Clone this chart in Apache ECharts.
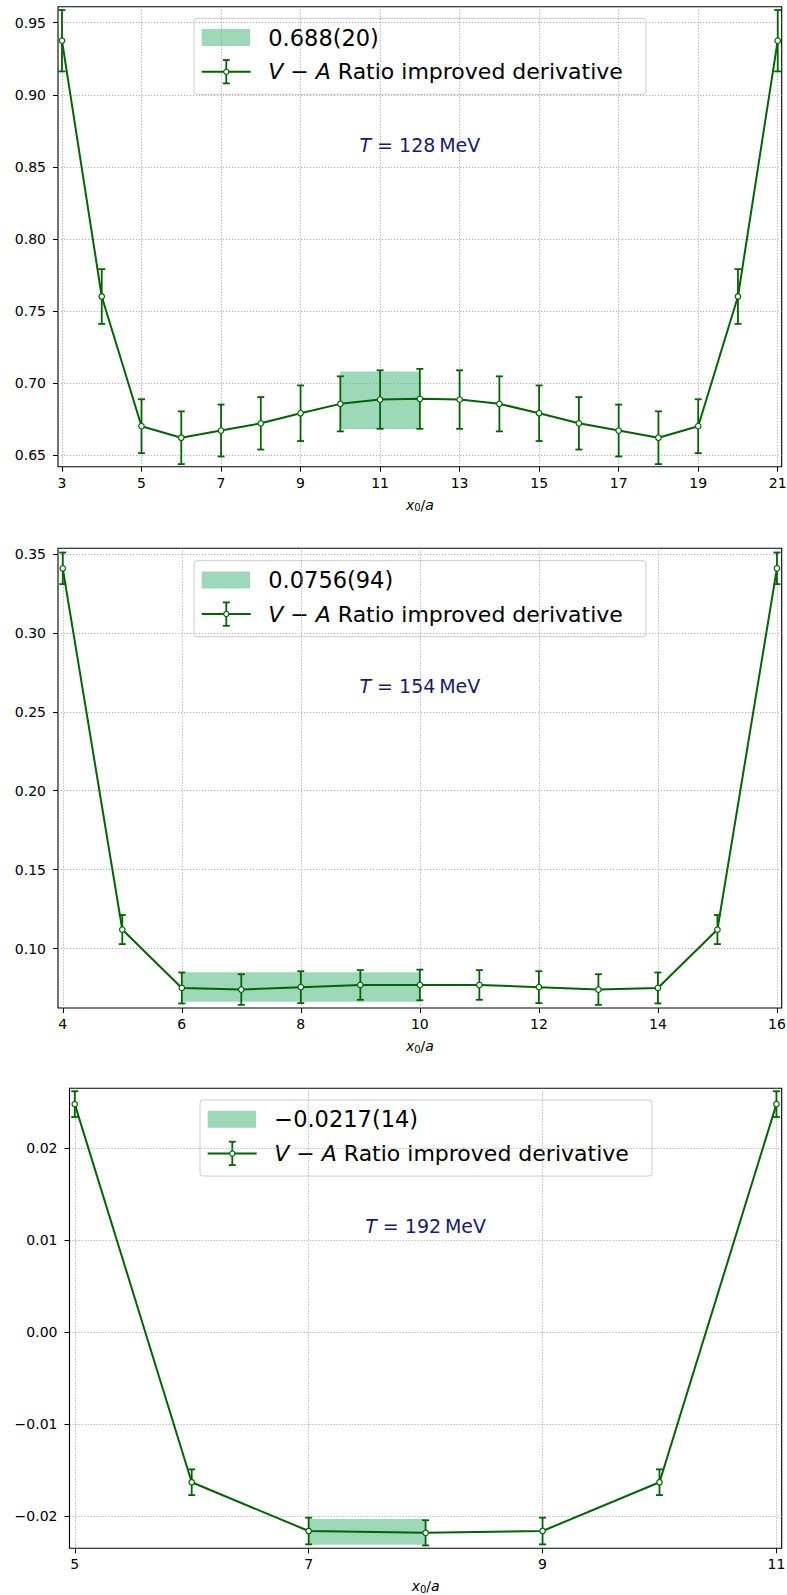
<!DOCTYPE html>
<html>
<head>
<meta charset="utf-8">
<script src="https://cdn.jsdelivr.net/npm/echarts@6/dist/echarts.min.js"></script>
<style>
html,body{margin:0;padding:0;background:#fff;}
#chart{width:787px;height:1595px;}
</style>
</head>
<body>
<div id="chart"></div>
<script>
// ---------------- DATA ----------------
// Panel 1 : T = 128 MeV
const x1 = [3,4,5,6,7,8,9,10,11,12,13,14,15,16,17,18,19,20,21];
const y1 = [0.9375,0.760,0.670,0.662,0.667,0.672,0.679,0.6855,0.6885,0.689,0.6885,0.6855,0.679,0.672,0.667,0.662,0.670,0.760,0.9375];
const e1 = [0.0213,0.019,0.0187,0.0183,0.018,0.0182,0.0193,0.0191,0.0203,0.0208,0.0203,0.0191,0.0193,0.0182,0.018,0.0183,0.0187,0.019,0.0213];
const band1X = [10, 12];
const band1V = 0.688, band1E = 0.020;
const band1Label = '0.688(20)';
const temp1 = '128';
const xTicks1 = [3,5,7,9,11,13,15,17,19,21];
const yTicks1 = [0.65,0.70,0.75,0.80,0.85,0.90,0.95];
const xRange1 = [2.9, 21.1];
const yRange1 = [0.6419, 0.9611];

// Panel 2 : T = 154 MeV
const x2 = [4,5,6,7,8,9,10,11,12,13,14,15,16];
const y2 = [0.3409,0.1120,0.0750,0.0740,0.0755,0.0769,0.0769,0.0769,0.0755,0.0740,0.0750,0.1120,0.3409];
const e2 = [0.0100,0.0092,0.0098,0.0097,0.0101,0.0094,0.0097,0.0094,0.0101,0.0097,0.0098,0.0092,0.0100];
const band2X = [6, 10];
const band2V = 0.0756, band2E = 0.0094;
const band2Label = '0.0756(94)';
const temp2 = '154';
const xTicks2 = [4,6,8,10,12,14,16];
const yTicks2 = [0.10,0.15,0.20,0.25,0.30,0.35];
const xRange2 = [3.92, 16.08];
const yRange2 = [0.0623, 0.3536];

// Panel 3 : T = 192 MeV
const x3 = [5,6,7,8,9,10,11];
const y3 = [0.0248,-0.0163,-0.0216,-0.0218,-0.0216,-0.0163,0.0248];
const e3 = [0.0014,0.0014,0.00145,0.00137,0.00145,0.0014,0.0014];
const band3X = [7, 8];
const band3V = -0.0217, band3E = 0.0014;
const band3Label = '\u22120.0217(14)';
const temp3 = '192';
const xTicks3 = [5,7,9,11];
const yTicks3 = [-0.02,-0.01,0.00,0.01,0.02];
const xRange3 = [4.955, 11.045];
const yRange3 = [-0.02348, 0.02652];

const seriesLabel = '{i|V}{m|\u2212}{i|A} Ratio improved derivative';
const xAxisTitle = '{i|x}{sub|0}{n|/}{i|a}';

// ---------------- LAYOUT / STYLE ----------------
const FONT = '"DejaVu Sans", sans-serif';
const GREEN = '#006400';
const BAND = 'rgba(60,179,113,0.5)';
const layout = [
  {left: 58, right: 5.3, top: 6.7, height: 460, legendLeft: 194, legendTop: 18.3},
  {left: 58, right: 5.3, top: 548.3, height: 459.7, legendLeft: 194, legendTop: 560.7},
  {left: 69.5, right: 5.3, top: 1088.3, height: 460, legendLeft: 200, legendTop: 1100}
];
const panels = [
  {x:x1,y:y1,e:e1,bx:band1X,bv:band1V,be:band1E,bl:band1Label,t:temp1,xt:xTicks1,yt:yTicks1,xr:xRange1,yr:yRange1},
  {x:x2,y:y2,e:e2,bx:band2X,bv:band2V,be:band2E,bl:band2Label,t:temp2,xt:xTicks2,yt:yTicks2,xr:xRange2,yr:yRange2},
  {x:x3,y:y3,e:e3,bx:band3X,bv:band3V,be:band3E,bl:band3Label,t:temp3,xt:xTicks3,yt:yTicks3,xr:xRange3,yr:yRange3}
];

const W = 787;
const grids = [], xAxes = [], yAxes = [], series = [], graphics = [];
const gridStyle = {color: '#9a9a9a', width: 0.8, type: [1.2, 1.8]};

panels.forEach((p, k) => {
  const L = layout[k];
  grids.push({left: L.left, right: L.right, top: L.top, height: L.height,
    show: true, borderColor: '#000', borderWidth: 1.1, backgroundColor: 'transparent',
    containLabel: false, outerBoundsMode: 'none'});
  xAxes.push({
    type: 'value', gridIndex: k, min: p.xr[0], max: p.xr[1],
    axisLine: {show: false, onZero: false},
    axisTick: {show: true, inside: false, length: 5, customValues: p.xt, lineStyle: {color: '#000', width: 1}},
    axisLabel: {customValues: p.xt, color: '#000', fontSize: 14, fontFamily: FONT, margin: 9,
      formatter: v => String(v)},
    splitLine: {show: true, lineStyle: gridStyle},
    name: xAxisTitle, nameLocation: 'middle', nameGap: 31,
    nameTextStyle: {color: '#000', fontFamily: FONT, fontSize: 14, lineHeight: 14,
      rich: {
        i: {fontStyle: 'italic', fontSize: 14, fontFamily: FONT, color: '#000', lineHeight: 14},
        n: {fontSize: 14, fontFamily: FONT, color: '#000', lineHeight: 14},
        sub: {fontSize: 10, fontFamily: FONT, color: '#000', lineHeight: 8, padding: [6, 0, 0, 0]}
      }}
  });
  yAxes.push({
    type: 'value', gridIndex: k, min: p.yr[0], max: p.yr[1],
    axisLine: {show: false, onZero: false},
    axisTick: {show: true, inside: false, length: 5, customValues: p.yt, lineStyle: {color: '#000', width: 1}},
    axisLabel: {customValues: p.yt, color: '#000', fontSize: 14, fontFamily: FONT, margin: 12,
      formatter: v => v.toFixed(2).replace('-', '\u2212')},
    splitLine: {show: true, lineStyle: gridStyle}
  });
  // band
  series.push({
    type: 'custom', xAxisIndex: k, yAxisIndex: k, z: 1, silent: true, clip: true,
    data: [[p.bx[0], p.bx[1], p.bv - p.be, p.bv + p.be]],
    encode: {x: [0, 1], y: [2, 3]},
    renderItem: (params, api) => {
      const a = api.coord([api.value(0), api.value(3)]);
      const b = api.coord([api.value(1), api.value(2)]);
      return {type: 'rect', shape: {x: a[0], y: a[1], width: b[0] - a[0], height: b[1] - a[1]},
        style: {fill: BAND}};
    }
  });
  // error bars
  series.push({
    type: 'custom', xAxisIndex: k, yAxisIndex: k, z: 2, silent: true, clip: false,
    data: p.x.map((xx, i) => [xx, p.y[i] - p.e[i], p.y[i] + p.e[i]]),
    encode: {x: 0, y: [1, 2]},
    renderItem: (params, api) => {
      const hi = api.coord([api.value(0), api.value(2)]);
      const lo = api.coord([api.value(0), api.value(1)]);
      const c = 3.5, st = {stroke: GREEN, lineWidth: 1.8};
      return {type: 'group', children: [
        {type: 'line', shape: {x1: hi[0], y1: hi[1], x2: lo[0], y2: lo[1]}, style: st},
        {type: 'line', shape: {x1: hi[0] - c, y1: hi[1], x2: hi[0] + c, y2: hi[1]}, style: st},
        {type: 'line', shape: {x1: lo[0] - c, y1: lo[1], x2: lo[0] + c, y2: lo[1]}, style: st}
      ]};
    }
  });
  // main line
  series.push({
    type: 'line', xAxisIndex: k, yAxisIndex: k, z: 3,
    data: p.x.map((xx, i) => [xx, p.y[i]]),
    symbol: 'circle', symbolSize: 5.5, showSymbol: true, showAllSymbol: true,
    lineStyle: {color: GREEN, width: 2},
    itemStyle: {color: '#fff', borderColor: GREEN, borderWidth: 1.2},
    emphasis: {disabled: true}
  });

  // legend box
  const lx = L.legendLeft, ly = L.legendTop;
  graphics.push({
    type: 'group', x: lx, y: ly, z: 100,
    children: [
      {type: 'rect', shape: {x: 0, y: 0, width: 452, height: 76, r: 3},
        style: {fill: 'rgba(255,255,255,0.8)', stroke: '#cccccc', lineWidth: 1}},
      {type: 'rect', shape: {x: 7.7, y: 10.7, width: 48.3, height: 17}, style: {fill: BAND}},
      {type: 'text', x: 74.3, y: 19.2,
        style: {text: p.bl, fill: '#000', fontSize: 22.5, fontFamily: FONT,
          align: 'left', verticalAlign: 'middle', textAlign: 'left', textVerticalAlign: 'middle'}},
      {type: 'line', shape: {x1: 7.7, y1: 53.4, x2: 56.7, y2: 53.4}, style: {stroke: GREEN, lineWidth: 2}},
      {type: 'line', shape: {x1: 32.3, y1: 41.7, x2: 32.3, y2: 65.1}, style: {stroke: GREEN, lineWidth: 1.8}},
      {type: 'line', shape: {x1: 28.8, y1: 41.7, x2: 35.8, y2: 41.7}, style: {stroke: GREEN, lineWidth: 1.8}},
      {type: 'line', shape: {x1: 28.8, y1: 65.1, x2: 35.8, y2: 65.1}, style: {stroke: GREEN, lineWidth: 1.8}},
      {type: 'circle', shape: {cx: 32.3, cy: 53.4, r: 2.6}, style: {fill: '#fff', stroke: GREEN, lineWidth: 1.2}},
      {type: 'text', x: 74.3, y: 53.4,
        style: {text: seriesLabel, fill: '#000', fontSize: 22, fontFamily: FONT,
          align: 'left', verticalAlign: 'middle', textAlign: 'left', textVerticalAlign: 'middle',
          rich: {
            i: {fontStyle: 'italic', fontSize: 22, fontFamily: FONT, fill: '#000', color: '#000'},
            m: {fontSize: 22, fontFamily: FONT, fill: '#000', color: '#000', padding: [0, 7, 0, 7]}
          }}}
    ]
  });
  // temperature annotation at axes (0.5, 0.7)
  const cx = L.left + (W - L.left - L.right) / 2;
  const cy = L.top + 0.3 * L.height;
  graphics.push({
    type: 'text', x: cx, y: cy, z: 100,
    style: {text: '{i|T} = ' + p.t + '\u2009MeV', fill: '#191970', fontSize: 19, fontFamily: FONT,
      align: 'center', verticalAlign: 'middle', textAlign: 'center', textVerticalAlign: 'middle',
      rich: {i: {fontStyle: 'italic', fontSize: 19, fontFamily: FONT, fill: '#191970', color: '#191970'}}}
  });
});

const chart = echarts.init(document.getElementById('chart'), null, {renderer: 'svg', width: 787, height: 1595});
chart.setOption({
  animation: false,
  backgroundColor: '#fff',
  textStyle: {fontFamily: FONT},
  grid: grids,
  xAxis: xAxes,
  yAxis: yAxes,
  series: series,
  graphic: {elements: graphics}
});
</script>
</body>
</html>
